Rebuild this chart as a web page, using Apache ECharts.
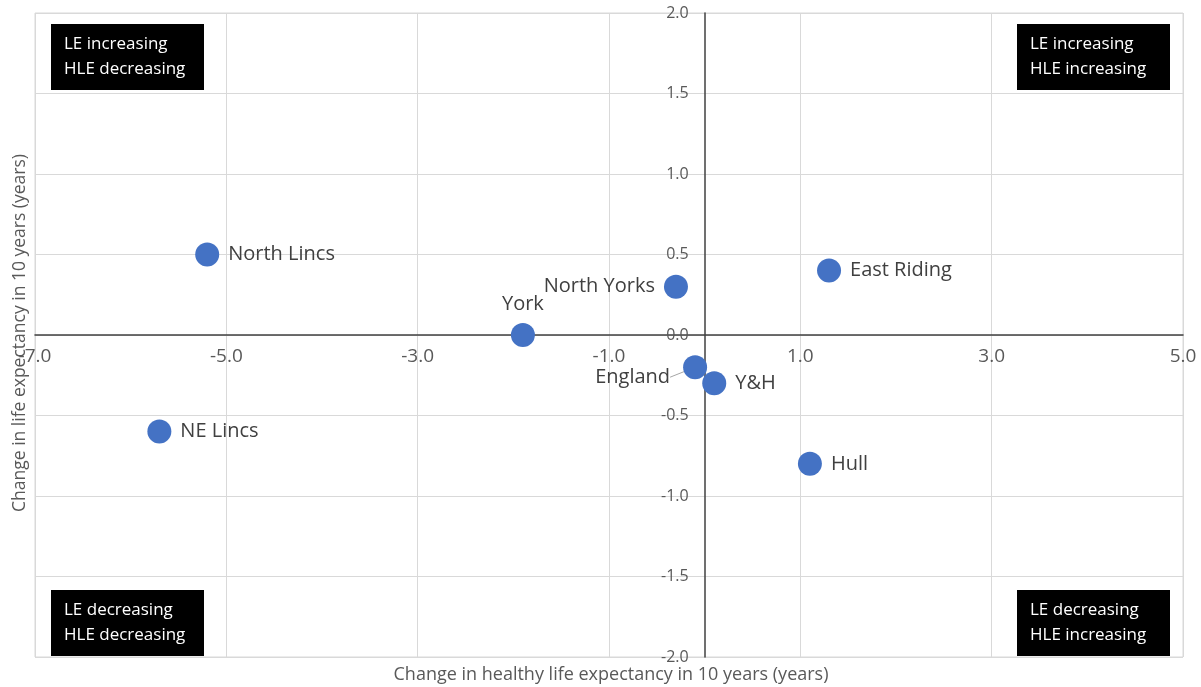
<!DOCTYPE html>
<html>
<head>
<meta charset="utf-8">
<script src="https://cdn.jsdelivr.net/npm/echarts@6/dist/echarts.min.js"></script>
<style>
  html, body { margin: 0; padding: 0; background: #fff; }
  #chart { width: 1201px; height: 687px; }
</style>
</head>
<body>
<div id="chart"></div>
<script>
// Areas and their 10-year changes (HLE on x, LE on y)
const areas = ['North Lincs', 'NE Lincs', 'York', 'North Yorks', 'East Riding', 'England', 'Y&H', 'Hull'];
const hleChange = [-5.2, -5.7, -1.9, -0.3, 1.3, -0.1, 0.1, 1.1];
const leChange = [0.5, -0.6, 0.0, 0.3, 0.4, -0.2, -0.3, -0.8];
const labelSide = ['right', 'right', 'top', 'left', 'right', 'left', 'right', 'right'];

const X_MIN = -7, X_MAX = 5, Y_MIN = -2, Y_MAX = 2;

const quadrantNotes = [
  ['LE increasing', 'HLE decreasing'],
  ['LE increasing', 'HLE increasing'],
  ['LE decreasing', 'HLE decreasing'],
  ['LE decreasing', 'HLE increasing']
];

const FONT = '"Open Sans", "Noto Sans", sans-serif';
const GRID = { left: 35, right: 18, top: 13, bottom: 30 };
const W = 1201, H = 687;
const plotW = W - GRID.left - GRID.right;
const plotH = H - GRID.top - GRID.bottom;

// Axes cross at zero: shift each axis inward from its grid edge to the zero line
const xAxisShift = -plotH * (0 - Y_MIN) / (Y_MAX - Y_MIN);
const yAxisShift = -plotW * (0 - X_MIN) / (X_MAX - X_MIN);

const chart = echarts.init(document.getElementById('chart'));

const points = areas.map((name, i) => {
  const item = {
    name: name,
    value: [hleChange[i], leChange[i]],
    label: { position: labelSide[i] }
  };
  if (name === 'England') {
    item.labelLine = { show: true, length2: 0, lineStyle: { color: '#a6a6a6', width: 1 } };
  }
  return item;
});

function noteBox(lines, pos) {
  return {
    type: 'group',
    left: pos.left, top: pos.top,
    children: [
      { type: 'rect', shape: { x: 0, y: 0, width: 153, height: 66 }, style: { fill: '#000' } },
      {
        type: 'text', x: 13, y: 8,
        style: { text: lines.join('\n'), fill: '#fff', font: '17px ' + FONT, lineHeight: 25 }
      }
    ]
  };
}

chart.setOption({
  animation: false,
  backgroundColor: '#fff',
  grid: Object.assign({
    show: true, borderColor: '#d9d9d9', borderWidth: 1,
    outerBoundsMode: 'none', containLabel: false
  }, GRID),
  xAxis: {
    type: 'value', min: X_MIN, max: X_MAX, interval: 2,
    position: 'bottom', offset: xAxisShift,
    axisLine: { onZero: false, lineStyle: { color: '#404040', width: 1.5 } },
    axisTick: { show: false },
    splitLine: { show: true, lineStyle: { color: '#d9d9d9', width: 1 } },
    axisLabel: {
      color: '#595959', fontSize: 19, fontFamily: FONT, margin: 12,
      showMinLabel: true, showMaxLabel: true, hideOverlap: false,
      formatter: v => v.toFixed(1)
    }
  },
  yAxis: {
    type: 'value', min: Y_MIN, max: Y_MAX, interval: 0.5,
    position: 'left', offset: yAxisShift,
    axisLine: { onZero: false, lineStyle: { color: '#404040', width: 1.5 } },
    axisTick: { show: false },
    splitLine: { show: true, lineStyle: { color: '#d9d9d9', width: 1 } },
    axisLabel: {
      color: '#595959', fontSize: 16, fontFamily: FONT, margin: 16,
      showMinLabel: true, showMaxLabel: true, hideOverlap: false,
      formatter: v => v.toFixed(1)
    }
  },
  series: [{
    type: 'scatter',
    symbolSize: 24,
    itemStyle: { color: '#4472C4', opacity: 1 },
    label: {
      show: true, formatter: '{b}', color: '#404040',
      fontSize: 20, fontFamily: FONT, distance: 9
    },
    labelLayout: params => params.dataIndex === areas.indexOf('England') ? { dx: -4, dy: 10 } : {},
    data: points
  }],
  graphic: [
    {
      type: 'text', x: 611, y: 675,
      style: {
        text: 'Change in healthy life expectancy in 10 years (years)', fill: '#595959',
        font: '18px ' + FONT, align: 'center', verticalAlign: 'middle'
      }
    },
    {
      type: 'text', x: 20, y: 333, rotation: Math.PI / 2,
      style: {
        text: 'Change in life expectancy in 10 years (years)', fill: '#595959',
        font: '17.5px ' + FONT, align: 'center', verticalAlign: 'middle'
      }
    },
    noteBox(quadrantNotes[0], { left: 51, top: 24 }),
    noteBox(quadrantNotes[1], { left: 1017, top: 24 }),
    noteBox(quadrantNotes[2], { left: 51, top: 590 }),
    noteBox(quadrantNotes[3], { left: 1017, top: 590 })
  ]
});
</script>
</body>
</html>
